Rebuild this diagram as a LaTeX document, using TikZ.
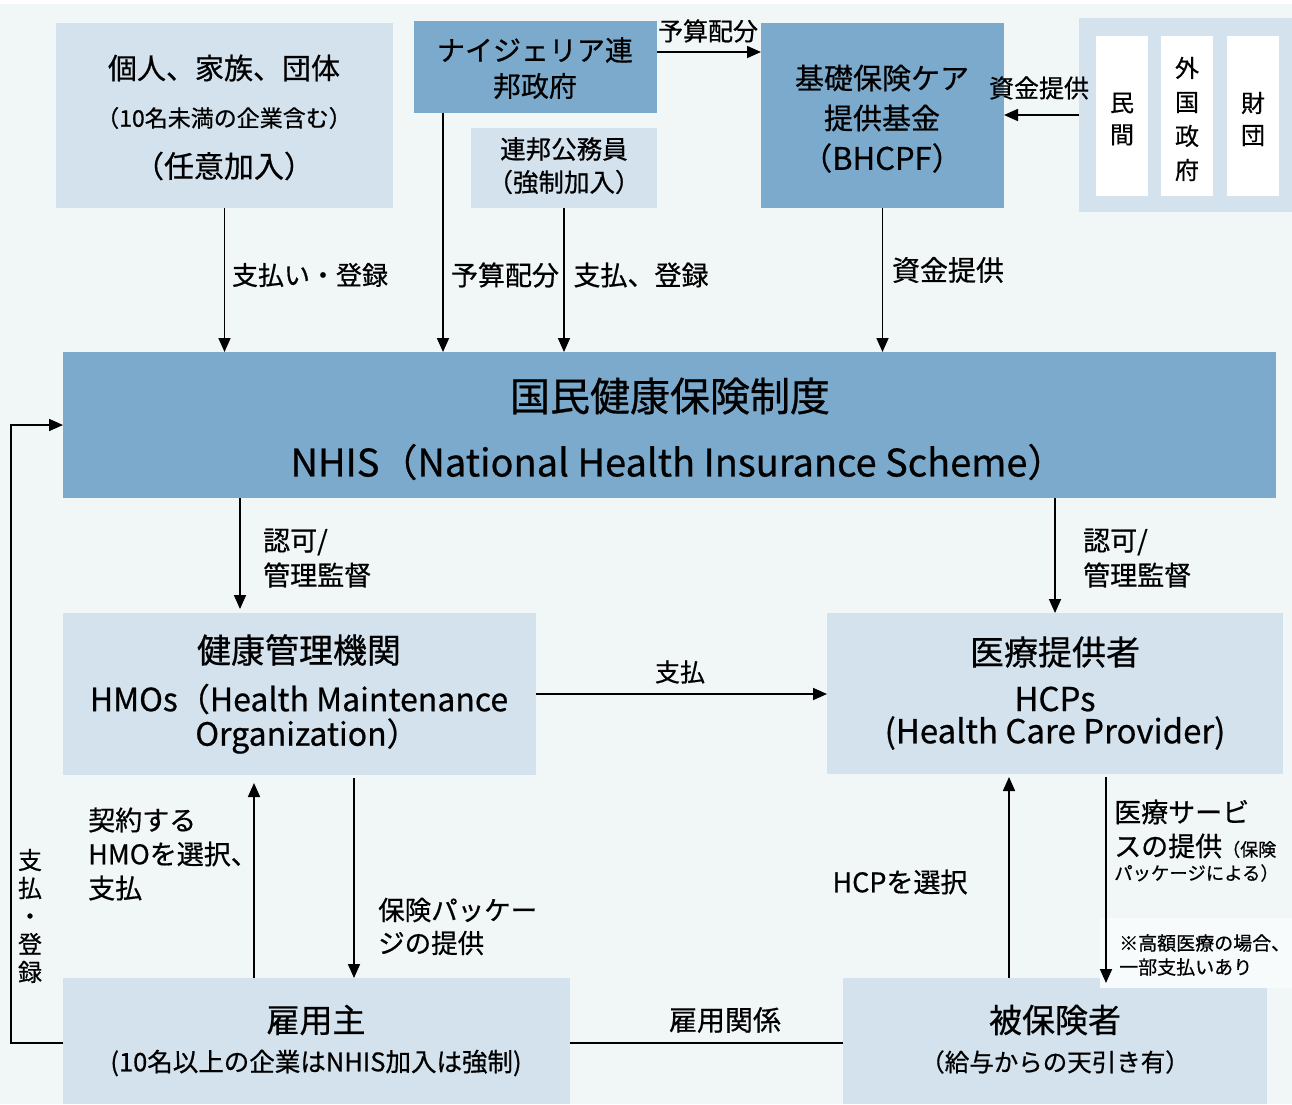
\documentclass[tikz,border=0pt]{standalone}
\usepackage{fontspec}
\setmainfont{Noto Sans CJK JP}[FakeBold=0.6]
\usetikzlibrary{arrows.meta,calc}
\definecolor{bg}{RGB}{241,246,247}
\definecolor{dblue}{RGB}{123,170,205}
\definecolor{lblue}{RGB}{211,226,237}
\definecolor{notebg}{RGB}{248,251,252}
\newcommand{\fs}[1]{\fontsize{#1}{#1}\selectfont}
\begin{document}
\begin{tikzpicture}[x=1pt,y=-1pt,
  box/.style={anchor=north west,inner sep=0,outer sep=0,draw=none},
  dark/.style={box,fill=dblue},
  light/.style={box,fill=lblue},
  colbox/.style={box,fill=white,minimum width=52,minimum height=160},
  txt/.style={inner sep=0,align=center},
  ltxt/.style={inner sep=0,align=left,anchor=west},
  arr/.style={-{Triangle[length=14pt,width=12pt]},line width=1.7pt},
  ln/.style={line width=1.7pt}]
\useasboundingbox (0,0) rectangle (1292,1104);
\fill[white] (0,0) rectangle (1292,1104);
\fill[bg] (0,4) rectangle (1292,1104);
% boxes
\node[light,minimum width=337,minimum height=185] (ind) at (56,23) {};
\node[dark,minimum width=243,minimum height=92] (gov) at (414,21) {};
\node[light,minimum width=186,minimum height=80] (fed) at (471,128) {};
\node[dark,minimum width=243,minimum height=185] (bhc) at (761,23) {};
\node[light,minimum width=215,minimum height=194] (src) at (1079,18) {};
\node[colbox] (c1) at (1096,36) {};
\node[colbox] (c2) at (1161,36) {};
\node[colbox] (c3) at (1227,36) {};
\node[dark,minimum width=1213,minimum height=146] (nhis) at (63,352) {};
\node[light,minimum width=473,minimum height=162] (hmo) at (63,613) {};
\node[light,minimum width=456,minimum height=161] (hcp) at (827,613) {};
\node[light,minimum width=507,minimum height=126] (emp) at (63,978) {};
\node[light,minimum width=424,minimum height=126] (ins) at (843,978) {};
\node[box,fill=notebg,minimum width=192,minimum height=70] (note) at (1100,918) {};
% box texts
\node[txt,font=\fs{29}] (ind1) at (224,68) {個人、家族、団体};
\node[txt,font=\fs{23}] (ind2) at (224,118) {（10名未満の企業含む）};
\node[txt,font=\fs{30}] (ind3) at (224,166) {（任意加入）};
\node[txt,font=\fs{28}] (gov1) at (535,50) {ナイジェリア連};
\node[txt,font=\fs{28}] (gov2) at (535,86) {邦政府};
\node[txt,font=\fs{25.5}] (fed1) at (564,149) {連邦公務員};
\node[txt,font=\fs{25.5}] (fed2) at (564,182) {（強制加入）};
\node[txt,font=\fs{29}] (bhc1) at (882,78) {基礎保険ケア};
\node[txt,font=\fs{29}] (bhc2) at (882,118) {提供基金};
\node[txt,font=\fs{31}] (bhc3) at (882,158) {（BHCPF）};
\node[txt,font=\fs{24}] (c1t) at (1122,119) {民\\[8pt]間};
\node[txt,font=\fs{24}] (c2t) at (1187,119) {外\\[10pt]国\\[10pt]政\\[10pt]府};
\node[txt,font=\fs{24}] (c3t) at (1253,119) {財\\[8pt]団};
\node[txt,font=\fs{40}] (nh1) at (670,396) {国民健康保険制度};
\node[txt,font=\fs{38}] (nh2) at (678,462) {NHIS（National Health Insurance Scheme）};
\node[txt,font=\fs{34}] (hm1) at (299,650) {健康管理機関};
\node[txt,font=\fs{32}] (hm2) at (299,699) {HMOs（Health Maintenance};
\node[txt,font=\fs{32}] (hm3) at (307,736) {Organization）};
\node[txt,font=\fs{34}] (hc1) at (1055,652) {医療提供者};
\node[txt,font=\fs{33}] (hc2) at (1055,699) {HCPs};
\node[txt,font=\fs{33}] (hc3) at (1055,733) {(Health Care Provider)};
\node[txt,font=\fs{33}] (em1) at (316,1020) {雇用主};
\node[txt,font=\fs{25.5}] (em2) at (316,1063) {(10名以上の企業はNHIS加入は強制)};
\node[txt,font=\fs{33}] (in1) at (1055,1020) {被保険者};
\node[txt,font=\fs{24.5}] (in2) at (1055,1062) {（給与からの天引き有）};
% connector labels
\node[txt,font=\fs{25}] (l1) at (708,31) {予算配分};
\node[txt,font=\fs{25}] (l2) at (1039,88) {資金提供};
\node[txt,font=\fs{26}] (l3) at (310,275) {支払い・登録};
\node[txt,font=\fs{27}] (l4) at (505,275) {予算配分};
\node[txt,font=\fs{27}] (l5) at (641,275) {支払、登録};
\node[txt,font=\fs{28}] (l6) at (948,270) {資金提供};
\node[ltxt,font=\fs{27}] (l7a) at (263,542) {認可/};
\node[ltxt,font=\fs{27}] (l7b) at (263,575) {管理監督};
\node[ltxt,font=\fs{27}] (l8a) at (1083,542) {認可/};
\node[ltxt,font=\fs{27}] (l8b) at (1083,575) {管理監督};
\node[txt,font=\fs{25}] (l9) at (680,672) {支払};
\node[ltxt,font=\fs{27}] (l10a) at (88,820) {契約する};
\node[ltxt,font=\fs{27}] (l10b) at (88,854) {HMOを選択、};
\node[ltxt,font=\fs{27}] (l10c) at (88,888) {支払};
\node[ltxt,font=\fs{26.5}] (l11a) at (378,910) {保険パッケー};
\node[ltxt,font=\fs{26.5}] (l11b) at (378,943) {ジの提供};
\node[txt,font=\fs{27}] (l12) at (900,882) {HCPを選択};
\node[ltxt,font=\fs{27}] (l13a) at (1114,812) {医療サービ};
\node[ltxt,font=\fs{27}] (l13b) at (1114,846) {スの提供{\fs{18}（保険}};
\node[ltxt,font=\fs{18.4}] (l13c) at (1114,873) {パッケージによる）};
\node[ltxt,font=\fs{19}] (l14a) at (1119,943) {※高額医療の場合、};
\node[ltxt,font=\fs{19}] (l14b) at (1119,967) {一部支払いあり};
\node[txt,font=\fs{28}] (l15) at (725,1020) {雇用関係};
\node[txt,font=\fs{24}] (l16) at (30,916) {支\\[4pt]払\\[4pt]・\\[4pt]登\\[4pt]録};
% connectors
\path ([xshift=29pt]gov.south west) coordinate (g1);
\path ([yshift=15pt]gov.east) coordinate (g2);
\path ([xshift=177pt]hmo.north west) coordinate (h1);
\path ([xshift=191pt]emp.north west) coordinate (e1);
\path ([xshift=291pt]emp.north west) coordinate (e2);
\path ([xshift=166pt]ins.north west) coordinate (i1);
\path ([xshift=279pt]hcp.south west) coordinate (h2);
\path ([yshift=-2pt]emp.west) coordinate (e3);
\coordinate (fb) at (11,0);
\draw[arr] (ind.south) -- (ind.south |- nhis.north);
\draw[arr] (g1) -- (g1 |- nhis.north);
\draw[arr] (fed.south) -- (fed.south |- nhis.north);
\draw[arr] (bhc.south) -- (bhc.south |- nhis.north);
\draw[arr] (g2) -- (g2 -| bhc.west);
\draw[arr] (src.west) -- (src.west -| bhc.east);
\draw[arr] (h1 |- nhis.south) -- ([yshift=4pt]h1);
\draw[arr] (hcp.north |- nhis.south) -- (hcp.north);
\draw[arr] (hmo.east) -- (hmo.east -| hcp.west);
\draw[arr] (e1) -- ([yshift=-8pt]e1 |- hmo.south);
\draw[arr] ([yshift=-3pt]e2 |- hmo.south) -- (e2);
\draw[arr] (i1) -- ([yshift=-3pt]i1 |- hcp.south);
\draw[arr] ([yshift=-3pt]h2) -- ([yshift=-5pt]h2 |- ins.north);
\draw[ln] (e3 -| emp.east) -- (e3 -| ins.west);
\draw[arr] (e3) -- (e3 -| fb) |- (nhis.west);
\end{tikzpicture}
\end{document}
